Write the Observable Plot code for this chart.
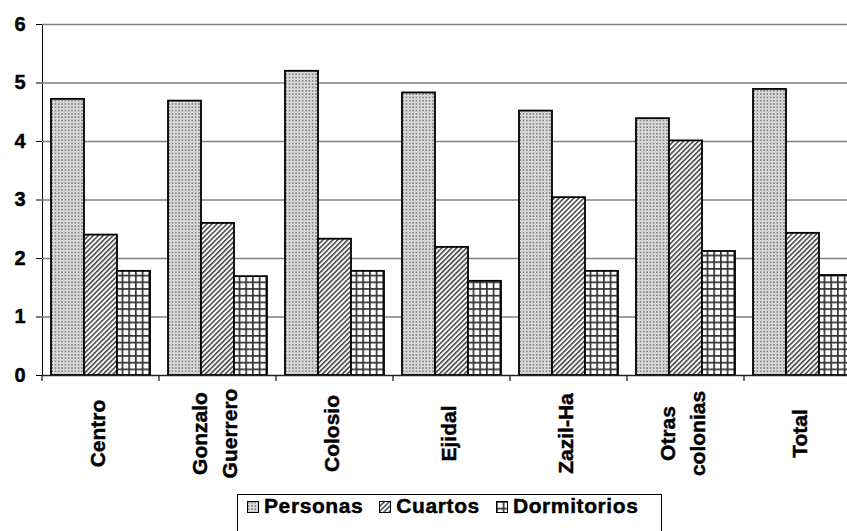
<!DOCTYPE html>
<html><head><meta charset="utf-8">
<script src="https://cdn.jsdelivr.net/npm/d3@7"></script>
<script src="https://cdn.jsdelivr.net/npm/@observablehq/plot@0.6"></script>
<style>
body{margin:0;background:#fff;font-family:"Liberation Sans",Arial,sans-serif;overflow:hidden}
#chart svg text{stroke:#000;stroke-width:0.45px}
#legend{box-sizing:border-box;margin-left:237px;width:425px;height:60px;border:1px solid #000;padding:0 0 0 9px;font-weight:bold;font-size:21px;letter-spacing:0.6px;white-space:nowrap;line-height:21px;-webkit-text-stroke:0.45px #000}
#legend .item{display:inline-block;margin-right:16px}
#legend .item svg{vertical-align:baseline;margin-right:5px}
</style></head><body>
<svg width="0" height="0" style="position:absolute">
<defs>
<pattern id="pP" patternUnits="userSpaceOnUse" width="3.3" height="3.3">
<rect width="3.3" height="3.3" fill="#d8d8d8"/><rect x="1" y="1" width="1.4" height="1.4" fill="#666"/>
</pattern>
<pattern id="pC" patternUnits="userSpaceOnUse" width="3.5" height="3.5" patternTransform="rotate(45)">
<rect width="3.5" height="3.5" fill="#fff"/><rect width="1.6" height="3.5" fill="#4a4a4a"/>
</pattern>
<pattern id="pD" patternUnits="userSpaceOnUse" width="6.7" height="6.7">
<rect width="6.7" height="6.7" fill="#fff"/><rect width="1.7" height="6.7" fill="#333"/><rect width="6.7" height="1.7" fill="#333"/>
</pattern>
</defs></svg>
<div id="chart"></div>
<div id="legend"></div>
<script>
const categories = ["Centro", "Gonzalo\nGuerrero", "Colosio", "Ejidal", "Zazil-Ha", "Otras\ncolonias", "Total"];
const series = ["Personas", "Cuartos", "Dormitorios"];
const personas = [4.72, 4.69, 5.20, 4.83, 4.52, 4.39, 4.89];
const cuartos = [2.40, 2.60, 2.33, 2.19, 3.04, 4.01, 2.43];
const dormitorios = [1.78, 1.69, 1.78, 1.61, 1.78, 2.12, 1.71];
const yTicks = [0, 1, 2, 3, 4, 5, 6];
const patterns = ["url(#pP)", "url(#pC)", "url(#pD)"];

const seriesValues = [personas, cuartos, dormitorios];
const rows = categories.flatMap((c, i) => series.map((s, j) => ({cat: c, series: s, value: seriesValues[j][i]})));

const plot = Plot.plot({
  width: 847, height: 494,
  marginLeft: 41, marginRight: -15, marginTop: 24, marginBottom: 119,
  style: {fontFamily: '"Liberation Sans", Arial, sans-serif', fontSize: "20px", fontWeight: "bold", color: "#000", background: "#fff", overflow: "visible"},
  fx: {domain: categories, padding: 0, axis: null},
  x: {domain: series, paddingInner: 0, paddingOuter: 0.25, axis: null},
  y: {domain: [0, 6], ticks: yTicks, tickFormat: "d", tickSize: 6, tickPadding: 11, label: null, line: true},
  color: {type: "ordinal", domain: series, range: patterns},
  marks: [
    Plot.ruleY(yTicks.filter(d => d > 0), {stroke: "#808080", strokeWidth: 1.3}),
    Plot.barY(rows, {fx: "cat", x: "series", y: "value", fill: "series", stroke: "#000", strokeWidth: 1.8}),
    Plot.ruleY([0], {stroke: "#222", strokeWidth: 1.3}),
    Plot.text(categories, {fx: d => d, text: d => d, frameAnchor: "bottom", dy: 58, dx: -6, rotate: -90,
      textAnchor: "middle", lineAnchor: "middle", lineHeight: 1.43, fontSize: 21, fontWeight: "bold", fill: "#000"})
  ]
});

const fx = plot.scale("fx"), ys = plot.scale("y");
const y0 = ys.apply(0);
d3.select(plot).append("g").attr("stroke", "#222").attr("stroke-width", 1.3)
  .selectAll("line").data(categories).join("line")
  .attr("x1", d => fx.apply(d)).attr("x2", d => fx.apply(d))
  .attr("y1", y0).attr("y2", y0 + 6);

document.getElementById("chart").append(plot);

const legend = d3.select("#legend");
series.forEach((s, i) => {
  const item = legend.append("span").attr("class", "item");
  const sw = item.append("svg").attr("width", 12).attr("height", 12);
  sw.append("rect").attr("x", 0.5).attr("y", 0.5).attr("width", 11).attr("height", 11)
    .attr("fill", patterns[i]).attr("stroke", "#000").attr("stroke-width", 1);
  item.append("span").text(s);
});
</script>
</body></html>
